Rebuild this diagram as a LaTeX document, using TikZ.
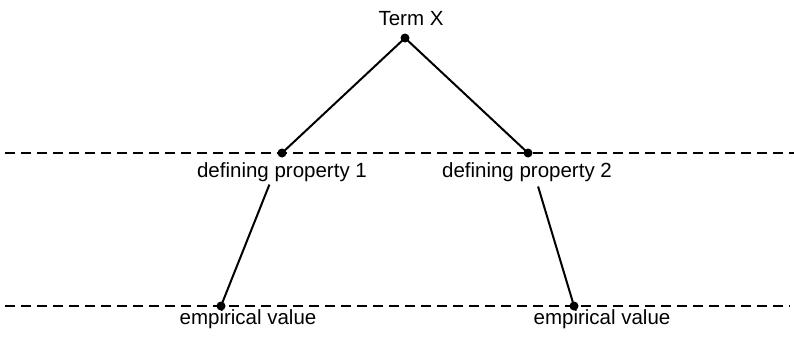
\documentclass[tikz,border=0pt]{standalone}
\usepackage{fontspec}
\setmainfont{Liberation Sans}
\begin{document}
\begin{tikzpicture}[x=1pt,y=-1pt,
  dot/.style={circle,fill=black,inner sep=0pt,minimum size=9pt},
  lbl/.style={anchor=base,inner sep=0pt,font=\fontsize{20.5}{24}\selectfont},
  conn/.style={line width=2pt},
  level/.style={line width=2pt,dash pattern=on 10pt off 6pt}]
\useasboundingbox (0,0) rectangle (794,340);
% levels
\coordinate (l1a) at (5,153);
\coordinate (l1b) at (794,153);
\coordinate (l2a) at (5,306);
\coordinate (l2b) at (790,306);
\draw[level] (l1a) -- (l1b);
\draw[level] (l2a) -- (l2b);
% dots
\node[dot] (t) at (405,38) {};
\node[dot] (d1) at (282,153) {};
\node[dot] (d2) at (528,153) {};
\node[dot] (e1) at (221,306) {};
\node[dot] (e2) at (574,306) {};
% labels
\node[lbl] (lt) at (411,25) {Term X};
\node[lbl] (ld1) at (282,177) {defining property 1};
\node[lbl] (ld2) at (527,177) {defining property 2};
\node[lbl] (le1) at (248,324) {empirical value};
\node[lbl] (le2) at (602,324) {empirical value};
% connectors
\draw[conn] (t.center) -- (d1.center);
\draw[conn] (t.center) -- (d2.center);
\draw[conn,shorten >=34pt] (e1.center) -- (d1.center);
\draw[conn,shorten >=35pt] (e2.center) -- (d2.center);
\end{tikzpicture}
\end{document}
